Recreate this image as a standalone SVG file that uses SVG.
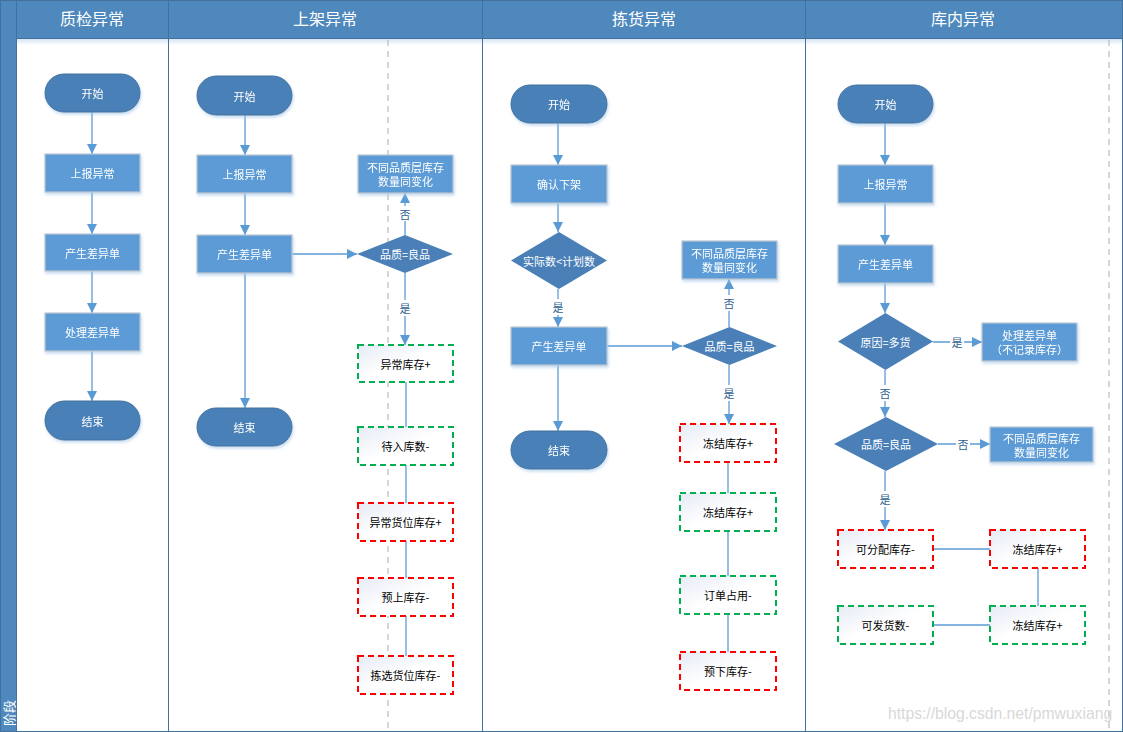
<svg xmlns="http://www.w3.org/2000/svg" width="1123" height="732" viewBox="0 0 1123 732">
<defs>
<style>
text{font-family:"Noto Sans CJK SC","Microsoft YaHei",sans-serif;}
.hdr{fill:#fff;font-size:16px;text-anchor:middle;}
.t{font-size:11px;text-anchor:middle;dominant-baseline:central;}
.w{fill:#fff;}
.k{fill:#000;}
.term{fill:#4A80B7;stroke:#41719C;stroke-width:1;}
.proc{fill:#5B9BD5;stroke:#BFC7D0;stroke-width:1.2;}
.dia{fill:#4A80B7;stroke:none;}
.red{fill:url(#g);stroke:#FF0000;stroke-width:1.3;stroke-dasharray:6,4;shape-rendering:crispEdges;}
.grn{fill:url(#g);stroke:#00B050;stroke-width:1.3;stroke-dasharray:6,4;shape-rendering:crispEdges;}
.c{stroke:#5B9BD5;stroke-width:1.3;fill:none;}
.a{marker-end:url(#ar);}
.lbl{font-size:11px;fill:#2F5F8F;text-anchor:middle;dominant-baseline:central;}
.lb{fill:#fff;}
.lane{stroke:#41719C;stroke-width:1;fill:none;}
.dash{stroke:#BBBBBB;stroke-width:1.2;stroke-dasharray:6,5;}
</style>
<linearGradient id="g" x1="0" y1="0" x2="1" y2="1">
<stop offset="0" stop-color="#E6EBF5"/>
<stop offset="0.5" stop-color="#FFFFFF"/>
<stop offset="1" stop-color="#FFFFFF"/>
</linearGradient>
<linearGradient id="hs" x1="0" y1="0" x2="0" y2="1">
<stop offset="0" stop-color="#D6E4F3"/>
<stop offset="1" stop-color="#FFFFFF"/>
</linearGradient>
<filter id="sh" x="-20%" y="-20%" width="140%" height="150%">
<feDropShadow dx="1" dy="2" stdDeviation="1.5" flood-color="#9DC3E6" flood-opacity="0.6"/>
</filter>
<marker id="ar" viewBox="0 0 10 10" refX="10" refY="5" markerWidth="10" markerHeight="10" markerUnits="userSpaceOnUse" orient="auto">
<path d="M0,0 L10,5 L0,10 z" fill="#5B9BD5"/>
</marker>
</defs>

<g id="background">
<rect x="0" y="0" width="1123" height="732" fill="#fff"/>
<rect x="0" y="0" width="17" height="732" fill="#4E88BC"/>
<rect x="17" y="0" width="1106" height="38" fill="#4E88BC"/>
<rect x="17" y="39" width="1105" height="6" fill="url(#hs)"/>
<line x1="17" y1="38.5" x2="1123" y2="38.5" class="lane"/>
<line x1="16.5" y1="0" x2="16.5" y2="732" class="lane"/>
<line x1="168.5" y1="0" x2="168.5" y2="732" class="lane"/>
<line x1="482.5" y1="0" x2="482.5" y2="732" class="lane"/>
<line x1="805.5" y1="0" x2="805.5" y2="732" class="lane"/>
<rect x="0.5" y="0.5" width="1122" height="731" class="lane"/>
<line x1="388" y1="40" x2="388" y2="732" class="dash"/>
<line x1="1109" y1="40" x2="1109" y2="732" class="dash"/>
<text class="hdr" x="92" y="25">质检异常</text>
<text class="hdr" x="325" y="25">上架异常</text>
<text class="hdr" x="644" y="25">拣货异常</text>
<text class="hdr" x="963" y="25">库内异常</text>
<text transform="translate(14,726) rotate(-90)" style="font-size:13px;fill:#fff;">阶段</text>
</g>

<g id="connectors">
<line class="c a" x1="92" y1="112" x2="92" y2="154"/>
<line class="c a" x1="92" y1="192" x2="92" y2="234"/>
<line class="c a" x1="92" y1="271" x2="92" y2="313"/>
<line class="c a" x1="92" y1="351" x2="92" y2="401"/>

<line class="c a" x1="245" y1="115" x2="245" y2="155"/>
<line class="c a" x1="245" y1="193" x2="245" y2="235"/>
<line class="c a" x1="245" y1="273" x2="245" y2="408"/>
<line class="c a" x1="292" y1="254" x2="357" y2="254"/>
<line class="c a" x1="405" y1="235" x2="405" y2="193"/>
<rect class="lb" x="398" y="206" width="14" height="15"/>
<text class="lbl" x="405" y="214">否</text>
<line class="c a" x1="405" y1="273" x2="405" y2="345"/>
<rect class="lb" x="398" y="300" width="14" height="16"/>
<text class="lbl" x="405" y="308">是</text>
<line class="c" x1="406" y1="382" x2="406" y2="427"/>
<line class="c" x1="406" y1="465" x2="406" y2="503"/>
<line class="c" x1="406" y1="541" x2="406" y2="578"/>
<line class="c" x1="406" y1="616" x2="406" y2="656"/>

<line class="c a" x1="558" y1="123" x2="558" y2="165"/>
<line class="c a" x1="558" y1="203" x2="558" y2="232"/>
<line class="c a" x1="558" y1="289" x2="558" y2="327"/>
<rect class="lb" x="551" y="299" width="14" height="16"/>
<text class="lbl" x="558" y="307">是</text>
<line class="c a" x1="558" y1="365" x2="558" y2="431"/>
<line class="c a" x1="607" y1="346" x2="682" y2="346"/>
<line class="c a" x1="729" y1="327" x2="729" y2="279"/>
<rect class="lb" x="722" y="295" width="14" height="16"/>
<text class="lbl" x="729" y="303">否</text>
<line class="c a" x1="729" y1="365" x2="729" y2="424"/>
<rect class="lb" x="722" y="385" width="14" height="16"/>
<text class="lbl" x="729" y="393">是</text>
<line class="c" x1="728" y1="462" x2="728" y2="493"/>
<line class="c" x1="728" y1="531" x2="728" y2="576"/>
<line class="c" x1="728" y1="614" x2="728" y2="652"/>

<line class="c a" x1="885" y1="123" x2="885" y2="165"/>
<line class="c a" x1="885" y1="203" x2="885" y2="245"/>
<line class="c a" x1="885" y1="283" x2="885" y2="313"/>
<line class="c a" x1="933" y1="342" x2="982" y2="342"/>
<rect class="lb" x="950" y="334" width="14" height="16"/>
<text class="lbl" x="957" y="342">是</text>
<line class="c a" x1="885" y1="370" x2="885" y2="417"/>
<rect class="lb" x="878" y="385" width="14" height="16"/>
<text class="lbl" x="885" y="393">否</text>
<line class="c a" x1="938" y1="444" x2="990" y2="444"/>
<rect class="lb" x="956" y="436" width="14" height="16"/>
<text class="lbl" x="963" y="444">否</text>
<line class="c a" x1="885" y1="471" x2="885" y2="530"/>
<rect class="lb" x="878" y="491" width="14" height="16"/>
<text class="lbl" x="885" y="499">是</text>
<line class="c" x1="933" y1="549" x2="990" y2="549"/>
<line class="c" x1="1038" y1="568" x2="1038" y2="606"/>
<line class="c" x1="933" y1="625" x2="990" y2="625"/>
</g>

<g id="l1-start" filter="url(#sh)"><rect class="term" x="45" y="74" width="95" height="38" rx="19"/><text class="t w" x="92.5" y="93">开始</text></g>
<g id="l1-report" filter="url(#sh)"><rect class="proc" x="45" y="154" width="95" height="38"/><text class="t w" x="92.5" y="173">上报异常</text></g>
<g id="l1-diff" filter="url(#sh)"><rect class="proc" x="45" y="234" width="95" height="37"/><text class="t w" x="92.5" y="252.5">产生差异单</text></g>
<g id="l1-handle" filter="url(#sh)"><rect class="proc" x="45" y="313" width="95" height="38"/><text class="t w" x="92.5" y="332">处理差异单</text></g>
<g id="l1-end" filter="url(#sh)"><rect class="term" x="45" y="401" width="95" height="39" rx="19.5"/><text class="t w" x="92.5" y="420.5">结束</text></g>

<g id="l2-start" filter="url(#sh)"><rect class="term" x="197" y="76" width="95" height="39" rx="19.5"/><text class="t w" x="244.5" y="95.5">开始</text></g>
<g id="l2-report" filter="url(#sh)"><rect class="proc" x="197" y="155" width="95" height="38"/><text class="t w" x="244.5" y="174">上报异常</text></g>
<g id="l2-diff" filter="url(#sh)"><rect class="proc" x="197" y="235" width="95" height="38"/><text class="t w" x="244.5" y="254">产生差异单</text></g>
<g id="l2-end" filter="url(#sh)"><rect class="term" x="197" y="408" width="95" height="38" rx="19"/><text class="t w" x="244.5" y="427">结束</text></g>
<g id="l2-quality"><polygon class="dia" points="357,254 405,235 453,254 405,273"/><text class="t w" x="405" y="254">品质=良品</text></g>
<g id="l2-change" filter="url(#sh)"><rect class="proc" x="358" y="155" width="95" height="38"/><text class="t w" x="405.5" y="167">不同品质层库存</text><text class="t w" x="405.5" y="181">数量同变化</text></g>
<g id="l2-b1"><rect class="grn" x="358" y="345" width="95" height="37"/><text class="t k" x="405.5" y="363.5">异常库存+</text></g>
<g id="l2-b2"><rect class="grn" x="358" y="427" width="95" height="38"/><text class="t k" x="405.5" y="446">待入库数-</text></g>
<g id="l2-b3"><rect class="red" x="358" y="503" width="95" height="38"/><text class="t k" x="405.5" y="522">异常货位库存+</text></g>
<g id="l2-b4"><rect class="red" x="358" y="578" width="95" height="38"/><text class="t k" x="405.5" y="597">预上库存-</text></g>
<g id="l2-b5"><rect class="red" x="358" y="656" width="95" height="38"/><text class="t k" x="405.5" y="675">拣选货位库存-</text></g>

<g id="l3-start" filter="url(#sh)"><rect class="term" x="511" y="85" width="96" height="38" rx="19"/><text class="t w" x="559" y="104">开始</text></g>
<g id="l3-confirm" filter="url(#sh)"><rect class="proc" x="511" y="165" width="96" height="38"/><text class="t w" x="559" y="184">确认下架</text></g>
<g id="l3-compare"><polygon class="dia" points="511,260.5 559,232 607,260.5 559,289"/><text class="t w" x="559" y="260.5">实际数&lt;计划数</text></g>
<g id="l3-diff" filter="url(#sh)"><rect class="proc" x="511" y="327" width="96" height="38"/><text class="t w" x="559" y="346">产生差异单</text></g>
<g id="l3-end" filter="url(#sh)"><rect class="term" x="511" y="431" width="96" height="38" rx="19"/><text class="t w" x="559" y="450">结束</text></g>
<g id="l3-quality"><polygon class="dia" points="682,346 729.5,327 777,346 729.5,365"/><text class="t w" x="729.5" y="346">品质=良品</text></g>
<g id="l3-change" filter="url(#sh)"><rect class="proc" x="682" y="241" width="95" height="38"/><text class="t w" x="729.5" y="253">不同品质层库存</text><text class="t w" x="729.5" y="267">数量同变化</text></g>
<g id="l3-b1"><rect class="red" x="680" y="424" width="96" height="38"/><text class="t k" x="728" y="443">冻结库存+</text></g>
<g id="l3-b2"><rect class="grn" x="680" y="493" width="96" height="38"/><text class="t k" x="728" y="512">冻结库存+</text></g>
<g id="l3-b3"><rect class="grn" x="680" y="576" width="96" height="38"/><text class="t k" x="728" y="595">订单占用-</text></g>
<g id="l3-b4"><rect class="red" x="680" y="652" width="96" height="38"/><text class="t k" x="728" y="671">预下库存-</text></g>

<g id="l4-start" filter="url(#sh)"><rect class="term" x="838" y="85" width="95" height="38" rx="19"/><text class="t w" x="885.5" y="104">开始</text></g>
<g id="l4-report" filter="url(#sh)"><rect class="proc" x="838" y="165" width="95" height="38"/><text class="t w" x="885.5" y="184">上报异常</text></g>
<g id="l4-diff" filter="url(#sh)"><rect class="proc" x="838" y="245" width="95" height="38"/><text class="t w" x="885.5" y="264">产生差异单</text></g>
<g id="l4-reason"><polygon class="dia" points="838,341.5 885.5,313 933,341.5 885.5,370"/><text class="t w" x="885.5" y="341.5">原因=多货</text></g>
<g id="l4-handle" filter="url(#sh)"><rect class="proc" x="982" y="323" width="95" height="38"/><text class="t w" x="1029.5" y="335">处理差异单</text><text class="t w" x="1029.5" y="349">（不记录库存）</text></g>
<g id="l4-quality"><polygon class="dia" points="834,444 886,417 938,444 886,471"/><text class="t w" x="886" y="444">品质=良品</text></g>
<g id="l4-change" filter="url(#sh)"><rect class="proc" x="990" y="427" width="103" height="35"/><text class="t w" x="1041.5" y="438">不同品质层库存</text><text class="t w" x="1041.5" y="452">数量同变化</text></g>
<g id="l4-b1"><rect class="red" x="838" y="530" width="95" height="38"/><text class="t k" x="885.5" y="549">可分配库存-</text></g>
<g id="l4-b2"><rect class="red" x="990" y="530" width="95" height="38"/><text class="t k" x="1037.5" y="549">冻结库存+</text></g>
<g id="l4-b3"><rect class="grn" x="838" y="606" width="95" height="38"/><text class="t k" x="885.5" y="625">可发货数-</text></g>
<g id="l4-b4"><rect class="grn" x="990" y="606" width="95" height="38"/><text class="t k" x="1037.5" y="625">冻结库存+</text></g>

<text x="888" y="719" style="font-family:'Liberation Sans',Arial,sans-serif;font-size:15.7px;fill:#D8D8D8;">https://blog.csdn.net/pmwuxiang</text>
</svg>
